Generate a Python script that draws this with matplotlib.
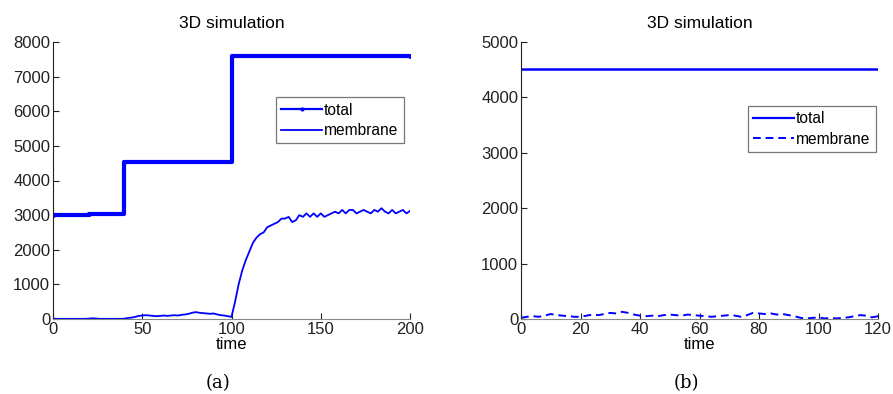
import matplotlib
matplotlib.use("Agg")
import matplotlib.pyplot as plt
from matplotlib.lines import Line2D

plt.rcParams['font.family'] = ['Liberation Sans', 'DejaVu Sans']

total_a_t = [0, 20, 40, 100, 200]
total_a_v = [3000, 3030, 4520, 7600, 7600]

mem_a_t = list(range(0, 201, 2))
mem_a_v = [10, 5, 5, 5, 5, 5, 5, 5, 5, 5, 10, 20, 15, 5, 5, 5, 5, 5, 5, 5,
           10, 30, 40, 60, 90, 100, 110, 100, 90, 80,
           90, 100, 90, 100, 110, 100, 120, 130, 150, 180,
           200, 180, 170, 160, 150, 160, 130, 110, 100, 80,
           60, 500, 1000, 1400, 1700, 1950, 2200, 2350, 2450, 2500,
           2650, 2700, 2750, 2800, 2900, 2900, 2950, 2800, 2850, 3000,
           2950, 3050, 2950, 3050, 2950, 3050, 2950, 3000, 3050, 3100,
           3050, 3150, 3050, 3150, 3150, 3050, 3100, 3150, 3100, 3050,
           3150, 3100, 3200, 3100, 3050, 3150, 3050, 3100, 3150, 3050, 3120]

# panel (b)
total_b_t = [0, 120]
total_b_v = [4520, 4520]

mem_b_t = list(range(0, 121, 2))
mem_b_v = [20, 40, 50, 40, 60, 90, 70, 60, 50, 40, 40, 60, 80, 70, 90, 110,
           100, 130, 110, 80, 60, 50, 60, 50, 70, 80, 70, 60, 80, 70, 60,
           50, 40, 50, 60, 70, 60, 40, 70, 110, 100, 90, 100, 80, 90, 70,
           50, 20, 10, 20, 30, 10, 20, 10, 20, 30, 50, 70, 60, 30, 50]

blue = '#0000ff'
fs = 12

fig = plt.figure(figsize=(8.93, 3.94), dpi=100)
ax1 = fig.add_axes([53/893, 75/394, 357/893, 277/394])
ax2 = fig.add_axes([521/893, 75/394, 357/893, 277/394])


def style(ax):
    for s in ['top', 'right']:
        ax.spines[s].set_visible(False)
    ax.spines['left'].set_color('#222222')
    ax.spines['bottom'].set_color('#888888')
    ax.tick_params(direction='in', length=4, labelsize=fs, colors='#222222',
                   pad=2)
    ax.set_title('3D simulation', fontsize=12.5, pad=10)
    ax.set_xlabel('time', fontsize=fs, labelpad=0)


def legend(ax, handles, anchor):
    leg = ax.legend(handles=handles, loc='upper right', bbox_to_anchor=anchor,
                    fontsize=11.2, fancybox=False, edgecolor='#555555',
                    handlelength=2.6, handletextpad=0.15, borderpad=0.35,
                    labelspacing=0.35, borderaxespad=0)
    leg.get_frame().set_linewidth(0.9)


ax1.plot(total_a_t, total_a_v, color=blue, lw=3, marker='.', ms=5,
         drawstyle='steps-post')
ax1.plot(mem_a_t, mem_a_v, color=blue, lw=1.3)
ax1.set_xlim(0, 200)
ax1.set_ylim(0, 8000)
ax1.set_xticks([0, 50, 100, 150, 200])
ax1.set_yticks(range(0, 8001, 1000))
style(ax1)
legend(ax1, [Line2D([], [], color=blue, lw=1.6, marker='.', ms=4, label='total'),
             Line2D([], [], color=blue, lw=1.3, label='membrane')],
       (0.983, 0.801))

ax2.plot(total_b_t, total_b_v, color=blue, lw=1.8)
ax2.plot(mem_b_t, mem_b_v, color=blue, lw=1.4, ls=(0, (4, 2.5)))
ax2.set_xlim(0, 120)
ax2.set_ylim(0, 5000)
ax2.set_xticks(range(0, 121, 20))
ax2.set_yticks(range(0, 5001, 1000))
style(ax2)
legend(ax2, [Line2D([], [], color=blue, lw=1.6, label='total'),
             Line2D([], [], color=blue, lw=1.4, ls=(0, (4, 2.5)), label='membrane')],
       (0.994, 0.769))

fig.text(218/893, 1 - 383/394, '(a)', ha='center', va='center',
         family='DejaVu Serif', fontsize=13)
fig.text(686/893, 1 - 383/394, '(b)', ha='center', va='center',
         family='DejaVu Serif', fontsize=13)

fig.savefig('out.png', dpi=100)
